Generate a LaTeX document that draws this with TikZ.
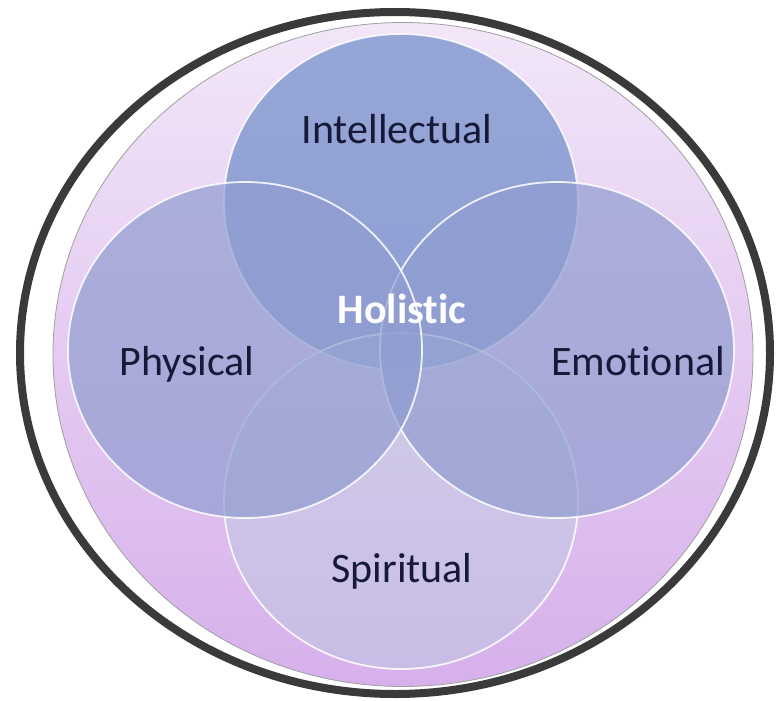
\documentclass[tikz,border=0pt]{standalone}
\usepackage{fontspec}
\setmainfont{Carlito}[Ligatures=NoCommon]
\definecolor{ringcol}{RGB}{58,58,58}
\definecolor{bgtop}{RGB}{242,230,248}
\definecolor{bgbot}{RGB}{214,176,235}
\definecolor{cintel}{RGB}{109,140,200}
\definecolor{cside}{RGB}{144,157,208}
\definecolor{cspir}{RGB}{182,205,221}
\definecolor{txtcol}{RGB}{22,26,56}
\tikzset{
  vennline/.style={draw=white, line width=1.8pt, draw opacity=0.85},
  lbl/.style={anchor=base, text=txtcol, font=\fontsize{42}{42}\selectfont, inner sep=0pt},
}
\begin{document}
\begin{tikzpicture}[x=1pt,y=-1pt]
\useasboundingbox (0,0) rectangle (776,701);
\fill[white] (0,0) rectangle (776,701);
% outer ring
\draw[ringcol, line width=8pt] (395,353) ellipse [x radius=375, y radius=341];
% inner field
\shade[top color=bgtop, bottom color=bgbot] (403,354.5) ellipse [x radius=350, y radius=332];
\draw[gray!75, line width=0.8pt] (403,354.5) ellipse [x radius=350, y radius=332];
% circles
\fill[cintel, fill opacity=0.7] (401,202) ellipse [x radius=177, y radius=168];
\draw[vennline] (401,202) ellipse [x radius=177, y radius=168];
\fill[cspir, fill opacity=0.4] (401,501) ellipse [x radius=177, y radius=168];
\draw[vennline] (401,501) ellipse [x radius=177, y radius=168];
\fill[cside, fill opacity=0.7] (557,350) ellipse [x radius=177, y radius=168];
\draw[vennline] (557,350) ellipse [x radius=177, y radius=168];
\fill[cside, fill opacity=0.7] (245,350) ellipse [x radius=177, y radius=168];
\draw[vennline] (245,350) ellipse [x radius=177, y radius=168];
% labels
\node[lbl] (intel) at (397,143) {Intellectual};
\node[lbl] (phys) at (187,375) {Physical};
\node[lbl] (emo) at (638,375) {Emotional};
\node[lbl] (spir) at (402,582) {Spiritual};
\node[lbl, text=white, font=\fontsize{42}{42}\selectfont\bfseries] (hol) at (402,323) {Holistic};
\end{tikzpicture}
\end{document}
